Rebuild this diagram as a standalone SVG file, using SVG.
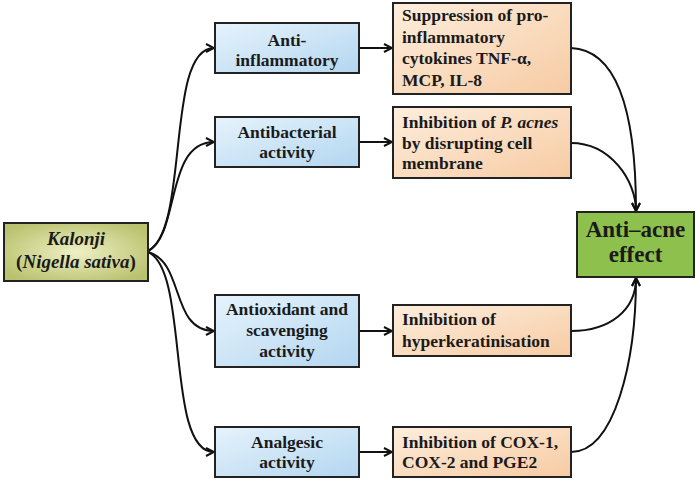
<svg xmlns="http://www.w3.org/2000/svg" width="700" height="481" viewBox="0 0 700 481">
<defs>
<radialGradient id="gOlive" cx="50%" cy="50%" r="60%">
<stop offset="0" stop-color="#eef0c4"/>
<stop offset="1" stop-color="#b9c26e"/>
</radialGradient>
<linearGradient id="gBlue" x1="0" y1="0" x2="1" y2="1">
<stop offset="0" stop-color="#e6f3fc"/>
<stop offset="1" stop-color="#b3d6f0"/>
</linearGradient>
<linearGradient id="gOrange" x1="0" y1="0" x2="1" y2="1">
<stop offset="0" stop-color="#fdeedd"/>
<stop offset="1" stop-color="#f7cba3"/>
</linearGradient>
<marker id="arr" viewBox="0 0 10 10" refX="9" refY="5" markerWidth="10" markerHeight="10" markerUnits="userSpaceOnUse" orient="auto">
<path d="M1,1 L9,5 L1,9" fill="none" stroke="#111" stroke-width="2"/>
</marker>
<style>
.box{stroke:#222;stroke-width:2}
text{font-family:'Liberation Serif','Times New Roman','DejaVu Serif',serif;font-weight:bold;font-size:17.5px;fill:#1a1a1a}
.c{text-anchor:middle}
.k{font-size:19px}
.big{font-size:23px}
.i{font-style:italic}
.con{fill:none;stroke:#111;stroke-width:2;marker-end:url(#arr)}
</style>
</defs>
<rect width="700" height="481" fill="#fff"/>
<g id="connectors">
<path class="con" d="M148,251 C190,230 165,48 214,48"/>
<path class="con" d="M148,251 C180,235 165,142 214,142"/>
<path class="con" d="M148,252 C185,262 170,331 214,331"/>
<path class="con" d="M148,252 C190,270 165,452 214,452"/>
<path class="con" d="M359,48 L392,48"/>
<path class="con" d="M359,142 L392,142"/>
<path class="con" d="M359,331 L392,331"/>
<path class="con" d="M359,452 L392,452"/>
<path class="con" d="M571,48 C620,50 636,120 636,211"/>
<path class="con" d="M571,143 C610,143 636,180 636,211"/>
<path class="con" d="M571,331 C610,331 636,310 636,278"/>
<path class="con" d="M571,452 C615,452 636,360 636,278"/>
</g>
<g id="kalonji">
<rect class="box" x="4" y="223" width="144" height="58" fill="url(#gOlive)"/>
<text class="c k i" x="76" y="245">Kalonji</text>
<text class="c k" x="76" y="268">(<tspan class="i">Nigella sativa</tspan>)</text>
</g>
<g id="anti-inflammatory">
<rect class="box" x="215" y="23" width="144" height="50" fill="url(#gBlue)"/>
<text class="c" x="287" y="46">Anti-</text>
<text class="c" x="287" y="66">inflammatory</text>
</g>
<g id="antibacterial">
<rect class="box" x="215" y="117" width="144" height="50" fill="url(#gBlue)"/>
<text class="c" x="287" y="138">Antibacterial</text>
<text class="c" x="287" y="158">activity</text>
</g>
<g id="antioxidant">
<rect class="box" x="215" y="295" width="144" height="72" fill="url(#gBlue)"/>
<text class="c" x="287" y="315">Antioxidant and</text>
<text class="c" x="287" y="336">scavenging</text>
<text class="c" x="287" y="357">activity</text>
</g>
<g id="analgesic">
<rect class="box" x="215" y="427" width="144" height="50" fill="url(#gBlue)"/>
<text class="c" x="287" y="448">Analgesic</text>
<text class="c" x="287" y="468">activity</text>
</g>
<g id="suppression">
<rect class="box" x="393" y="3" width="178" height="91" fill="url(#gOrange)"/>
<text x="402" y="21">Suppression of pro-</text>
<text x="402" y="43">inflammatory</text>
<text x="402" y="64">cytokines TNF-α,</text>
<text x="402" y="86">MCP, IL-8</text>
</g>
<g id="pacnes">
<rect class="box" x="393" y="107" width="178" height="71" fill="url(#gOrange)"/>
<text x="402" y="128">Inhibition of <tspan class="i">P. acnes</tspan></text>
<text x="402" y="149">by disrupting cell</text>
<text x="402" y="169">membrane</text>
</g>
<g id="hyperkeratinisation">
<rect class="box" x="393" y="305" width="178" height="51" fill="url(#gOrange)"/>
<text x="402" y="325">Inhibition of</text>
<text x="402" y="347">hyperkeratinisation</text>
</g>
<g id="cox">
<rect class="box" x="393" y="427" width="178" height="50" fill="url(#gOrange)"/>
<text x="402" y="448">Inhibition of COX-1,</text>
<text x="402" y="468">COX-2 and PGE2</text>
</g>
<g id="antiacne">
<rect class="box" x="577" y="212" width="117" height="65" fill="#8dc04c"/>
<text class="c big" x="635.5" y="237">Anti–acne</text>
<text class="c big" x="635.5" y="262">effect</text>
</g>
</svg>
